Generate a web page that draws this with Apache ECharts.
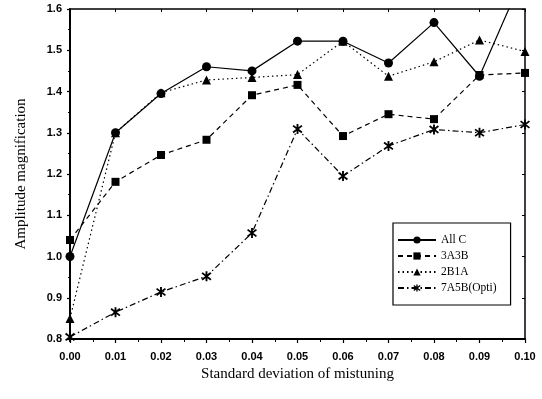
<!DOCTYPE html>
<html><head><meta charset="utf-8">
<script src="https://cdn.jsdelivr.net/npm/echarts@6/dist/echarts.min.js"></script>
<style>html,body{margin:0;padding:0;background:#fff}#c{width:542px;height:399px}</style>
</head><body><div id="c"></div>
<script>
var xValues = [0, 0.01, 0.02, 0.03, 0.04, 0.05, 0.06, 0.07, 0.08, 0.09, 0.10];
var allC  = [1.00, 1.30, 1.395, 1.46, 1.45, 1.522, 1.522, 1.469, 1.567, 1.437, 1.69];
var s3A3B = [1.04, 1.181, 1.246, 1.283, 1.391, 1.416, 1.292, 1.345, 1.333, 1.44, 1.445];
var s2B1A = [0.85, 1.30, 1.397, 1.428, 1.434, 1.441, 1.522, 1.437, 1.472, 1.525, 1.497];
var s7A5B = [0.805, 0.865, 0.914, 0.952, 1.057, 1.309, 1.195, 1.268, 1.308, 1.300, 1.320];
var seriesNames = ['All C', '3A3B', '2B1A', '7A5B(Opti)'];

function pairs(ys){ return xValues.map(function(x,i){ return [x, ys[i]]; }); }
var star = 'path://M4.1,0L5.9,0L5.9,10L4.1,10Z M0.2,2.3L1.3,0.9L9.8,7.7L8.7,9.1Z M8.7,0.9L9.8,2.3L1.3,9.1L0.2,7.7Z';

var chart = echarts.init(document.getElementById('c'));
var tickFont = {fontFamily:'Liberation Sans', fontWeight:'bold', fontSize:11, color:'#000'};
var serif = 'Liberation Serif';
function mk(name, data, symbol, size, ltype){
  return {name:name, type:'line', data:pairs(data), symbol:symbol, symbolSize:size, clip:true,
    itemStyle:{color:'#000'}, lineStyle:{color:'#000', width:1.2, type:ltype}, z:3};
}
chart.setOption({
  animation:false,
  backgroundColor:'#fff',
  grid:{left:70, right:17, top:9, bottom:60, show:false},
  legend:{
    orient:'vertical', left:393, top:223, width:114,
    padding:[11,14,11,4], itemGap:4, itemWidth:38, itemHeight:9,
    borderColor:'#000', borderWidth:1.2, backgroundColor:'#fff',
    textStyle:{fontFamily:serif, fontSize:11.5, color:'#000'},
    data:seriesNames
  },
  xAxis:[{
    type:'value', min:0, max:0.1, interval:0.01,
    name:'Standard deviation of mistuning', nameLocation:'middle', nameGap:26,
    nameTextStyle:{fontFamily:serif, fontSize:15, color:'#000'},
    axisLine:{show:true, onZero:false, lineStyle:{color:'#000', width:2}},
    axisTick:{show:true, length:4, lineStyle:{color:'#000', width:1.2}},
    minorTick:{show:true, splitNumber:2, length:3, lineStyle:{color:'#000'}},
    splitLine:{show:false},
    axisLabel:Object.assign({margin:12, formatter:function(v){return v.toFixed(2);}}, tickFont)
  },{
    type:'value', min:0, max:0.1, interval:0.01, position:'top',
    axisLine:{show:true, onZero:false, lineStyle:{color:'#000', width:1.5}},
    axisTick:{show:true, inside:true, length:3, lineStyle:{color:'#000'}},
    axisLabel:{show:false}, splitLine:{show:false}
  }],
  yAxis:[{
    type:'value', min:0.8, max:1.6, interval:0.1,
    name:'Amplitude magnification', nameLocation:'middle', nameGap:41,
    nameTextStyle:{fontFamily:serif, fontSize:15, color:'#000'},
    axisLine:{show:true, onZero:false, lineStyle:{color:'#000', width:2}},
    axisTick:{show:true, length:3, lineStyle:{color:'#000', width:1.2}},
    minorTick:{show:true, splitNumber:2, length:2, lineStyle:{color:'#000'}},
    splitLine:{show:false},
    axisLabel:Object.assign({margin:8, formatter:function(v){return v.toFixed(1);}}, tickFont)
  },{
    type:'value', min:0.8, max:1.6, interval:0.1, position:'right',
    axisLine:{show:true, onZero:false, lineStyle:{color:'#000', width:1.5}},
    axisTick:{show:true, inside:true, length:3, lineStyle:{color:'#000'}},
    axisLabel:{show:false}, splitLine:{show:false}
  }],
  series:[
    mk(seriesNames[0], allC, 'circle', 9, 'solid'),
    mk(seriesNames[1], s3A3B, 'rect', 8, [5,4]),
    mk(seriesNames[2], s2B1A, 'triangle', 9, [1.5,3]),
    mk(seriesNames[3], s7A5B, star, 10, [6,3,1.5,3])
  ]
});
</script></body></html>
